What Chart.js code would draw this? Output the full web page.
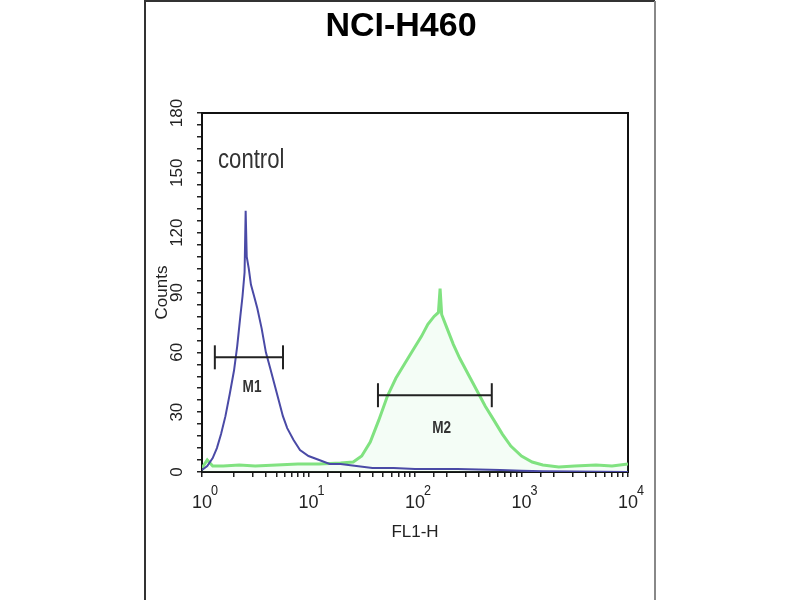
<!DOCTYPE html>
<html lang="en">
<head>
  <meta charset="UTF-8">
  <title>NCI-H460</title>
  <script src="https://cdn.jsdelivr.net/npm/chart.js"></script>
  <style>
    body { margin: 0; background: #fff; }
  </style>
</head>
<body>
  <canvas id="myChart" width="800" height="600"></canvas>

  <script>
    // histogram (FL1-H channel value, cell count)
    var controlFL1 = [1, 1.12, 1.26, 1.38, 1.51, 1.66, 1.82, 2.0, 2.14, 2.29, 2.4, 2.51, 2.57, 2.63, 2.75, 2.88, 3.09, 3.31, 3.63, 3.98, 4.37, 4.79, 5.25, 5.75, 6.31, 7.24, 8.32, 10, 12.6, 15.8, 20, 28.2, 39.8, 63.1, 100, 158, 251, 398, 631, 1000, 1585, 3162, 10000];
    var controlCounts = [1, 3, 7, 12, 19, 28, 39, 51, 63, 78, 88, 100, 131, 108, 102, 94, 88, 82, 72, 60, 52, 44, 36, 28, 22, 16, 11, 8, 6, 4, 4, 3, 2, 2, 1.5, 1.5, 1.5, 1.2, 1, 0.6, 0.4, 0.2, 0];

    var sampleFL1 = [1, 1.12, 1.26, 1.58, 2.24, 3.16, 5.01, 7.94, 12.6, 20, 26.3, 31.6, 38.0, 45.7, 55.0, 66.1, 79.4, 95.5, 115, 132, 151, 166, 172, 178, 200, 229, 263, 316, 380, 457, 550, 661, 794, 1000, 1259, 1585, 2239, 3162, 5012, 7079, 10000];
    var sampleCounts = [2, 6, 3, 3, 3.5, 3, 3.5, 4, 4, 4.5, 5, 8, 15, 26, 38, 47, 54, 61, 68, 74, 78, 80, 92, 79, 72, 64, 57, 49, 41, 33, 26, 19, 13, 8, 5, 3.5, 2.5, 3, 3.5, 3, 4];

    // gates
    var m1Range = [1.32, 5.76];
    var m1Level = 57.5;
    var m2Range = [44.9, 526];
    var m2Level = 38.5;

    var yMax = 180;
    var yLabelStep = 30;
    var xDecades = [1, 10, 100, 1000, 10000];
    var xExponents = ['0', '1', '2', '3', '4'];

    var sans = "'Liberation Sans', Arial, sans-serif";

    function toPoints(xs, ys) {
      return xs.map(function(x, i) { return { x: x, y: ys[i] }; });
    }

    function gate(range, level) {
      return {
        data: [{ x: range[0], y: level }, { x: range[1], y: level }],
        showLine: true,
        borderColor: '#222',
        borderWidth: 2,
        pointStyle: 'line',
        rotation: 90,
        pointRadius: 12,
        pointBorderColor: '#222',
        pointBorderWidth: 2,
        pointHoverRadius: 12
      };
    }

    // condensed text, like the narrow face of the original
    function narrowText(ctx, text, x, y, squeeze) {
      ctx.save();
      ctx.translate(x, y);
      ctx.scale(squeeze, 1);
      ctx.fillText(text, 0, 0);
      ctx.restore();
    }

    var framePlugin = {
      id: 'frame',
      beforeDraw: function(chart) {
        var ctx = chart.ctx;
        ctx.save();
        ctx.fillStyle = '#fff';
        ctx.fillRect(0, 0, chart.width, chart.height);
        ctx.lineWidth = 2;
        ctx.strokeStyle = '#333';
        ctx.beginPath();
        ctx.moveTo(145, 600);
        ctx.lineTo(145, 1);
        ctx.lineTo(655, 1);
        ctx.stroke();
        ctx.strokeStyle = '#888';
        ctx.beginPath();
        ctx.moveTo(655, 1);
        ctx.lineTo(655, 600);
        ctx.stroke();

        ctx.fillStyle = '#000';
        ctx.textAlign = 'center';
        ctx.textBaseline = 'middle';
        ctx.font = 'bold 34px ' + sans;
        ctx.fillText('NCI-H460', 401, 27);
        ctx.restore();
      },
      beforeDatasetsDraw: function(chart) {
        var a = chart.chartArea, ctx = chart.ctx;
        ctx.save();
        ctx.strokeStyle = '#111';
        ctx.lineWidth = 2;
        ctx.strokeRect(a.left, a.top, a.right - a.left, a.bottom - a.top);
        ctx.restore();
      },
      afterDraw: function(chart) {
        var ctx = chart.ctx, a = chart.chartArea;
        var xs = chart.scales.x, ys = chart.scales.y;
        ctx.save();
        ctx.fillStyle = '#333';
        ctx.textBaseline = 'middle';
        ctx.textAlign = 'left';
        ctx.font = '27px ' + sans;
        narrowText(ctx, 'control', a.left + 16, a.top + 48, 0.82);
        ctx.textAlign = 'center';
        ctx.font = 'bold 17px ' + sans;
        narrowText(ctx, 'M1', xs.getPixelForValue(2.95), ys.getPixelForValue(42.5), 0.8);
        narrowText(ctx, 'M2', xs.getPixelForValue(178), ys.getPixelForValue(22), 0.8);

        // decade exponents
        ctx.fillStyle = '#222';
        ctx.textAlign = 'left';
        ctx.font = '14px ' + sans;
        xDecades.forEach(function(v, i) {
          narrowText(ctx, xExponents[i], xs.getPixelForValue(v) + 9, a.bottom + 19, 0.9);
        });
        ctx.restore();
      }
    };

    var ctx = document.getElementById('myChart').getContext('2d');

    var myChart = new Chart(ctx, {
      type: 'scatter',
      data: {
        datasets: [
          gate(m1Range, m1Level),
          gate(m2Range, m2Level),
          {
            label: 'control',
            data: toPoints(controlFL1, controlCounts),
            showLine: true,
            borderColor: '#4a4aa6',
            borderWidth: 2,
            pointRadius: 0,
            tension: 0
          },
          {
            label: 'NCI-H460',
            data: toPoints(sampleFL1, sampleCounts),
            showLine: true,
            borderColor: '#80e280',
            backgroundColor: 'rgba(150, 235, 170, 0.10)',
            fill: 'origin',
            borderWidth: 3,
            pointRadius: 0,
            tension: 0
          }
        ]
      },
      options: {
        responsive: false,
        animation: false,
        layout: { padding: { left: 0, right: 172, top: 113, bottom: 0 } },
        plugins: {
          legend: { display: false },
          tooltip: { enabled: false },
          title: { display: false }
        },
        scales: {
          x: {
            type: 'logarithmic',
            min: 1,
            max: 10000,
            afterFit: function(s) { s.height = 128; },
            border: { display: false },
            grid: { drawOnChartArea: false, tickLength: 5, color: '#222', lineWidth: 1.5 },
            ticks: {
              autoSkip: false,
              maxRotation: 0,
              padding: 15,
              color: '#222',
              font: { size: 18, family: sans },
              callback: function(v) { return xDecades.indexOf(v) >= 0 ? '10' : ''; }
            },
            title: {
              display: true,
              text: 'FL1-H',
              color: '#222',
              font: { size: 17, family: sans },
              padding: { top: 0, bottom: 57 }
            }
          },
          y: {
            min: 0,
            max: yMax,
            afterFit: function(s) { s.width = 202; },
            border: { display: false },
            grid: { drawOnChartArea: false, tickLength: 5, color: '#222', lineWidth: 1.5 },
            ticks: {
              stepSize: 6,
              autoSkip: false,
              minRotation: 90,
              maxRotation: 90,
              crossAlign: 'center',
              padding: 6,
              color: '#222',
              font: { size: 17, family: sans },
              callback: function(v) { return v % yLabelStep === 0 ? v : ''; }
            },
            title: {
              display: true,
              text: 'Counts',
              color: '#222',
              font: { size: 17, family: sans },
              padding: { top: 152, bottom: 0 }
            }
          }
        }
      },
      plugins: [framePlugin]
    });
  </script>
</body>
</html>
